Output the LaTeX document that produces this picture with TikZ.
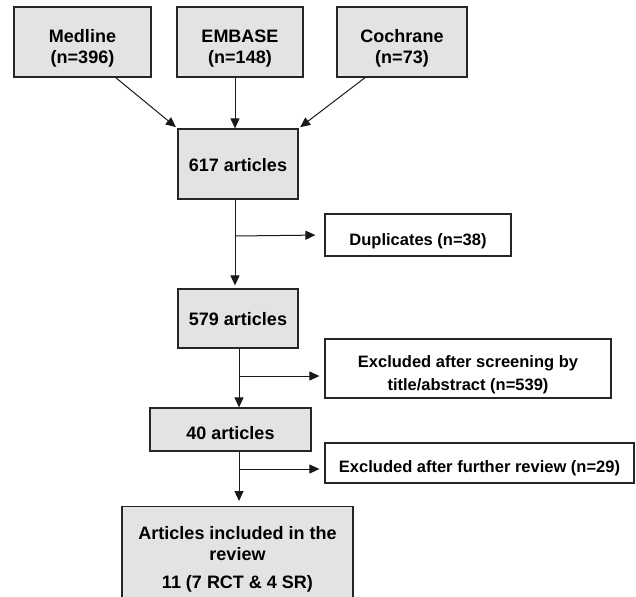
\documentclass[tikz,border=0pt]{standalone}
\usepackage{fontspec}
\setmainfont{Liberation Sans}
\usetikzlibrary{arrows.meta,positioning}
\newcommand{\boxtop}[1]{\rule{0pt}{#1pt}}

\begin{document}
\begin{tikzpicture}[x=1pt,y=-1pt,
  src/.style={draw=black!85,line width=1.2pt,fill=black!11,align=center,inner sep=0pt,font=\fontsize{18}{21}\selectfont\bfseries},
  side/.style={draw=black!85,line width=1.2pt,fill=white,align=center,inner sep=0pt,font=\fontsize{16.5}{23}\selectfont\bfseries},
  arr/.style={-{Triangle[length=10pt,width=9pt]},line width=1pt,black!90}]
\useasboundingbox (0,0) rectangle (636,596);
\node[src,minimum width=137,minimum height=70] (med) at (82.5,42) {\boxtop{25}Medline\\(n=396)};
\node[src,minimum width=126,minimum height=70] (emb) at (240,42) {\boxtop{25}EMBASE\\(n=148)};
\node[src,minimum width=130,minimum height=70] (coch) at (402,42) {\boxtop{25}Cochrane\\(n=73)};
\node[src,minimum width=120,minimum height=70] (n617) at (238,164) {\boxtop{16}617 articles};
\node[side,minimum width=186,minimum height=42] (dup) at (418,235) {\boxtop{24}Duplicates (n=38)};
\node[src,minimum width=120,minimum height=59] (n579) at (238,318.5) {\boxtop{15}579 articles};
\node[side,minimum width=286,minimum height=59] (scr) at (468,368.5) {\boxtop{23.5}Excluded after screening by\\title/abstract (n=539)};
\node[src,minimum width=161,minimum height=43] (n40) at (230.5,429.5) {\boxtop{21}40 articles};
\node[side,minimum width=309,minimum height=40] (fur) at (479.5,463) {\boxtop{23}Excluded after further review (n=29)};
\node[src,minimum width=231,inner ysep=10pt,anchor=north] (incl) at (237.5,506) {\boxtop{23}Articles included in the\\review\\[7pt]11 (7 RCT \& 4 SR)};
\coordinate (b1) at (235,236);
\coordinate (b2) at (239,376);
\coordinate (b3) at (239,469);
\draw[arr,shorten >=2pt] (med.-47) -- (n617.north west);
\draw[arr] (b1 |- emb.south) -- (b1 |- n617.north);
\draw[arr,shorten >=2pt] (coch.-136) -- (n617.north east);
\draw[arr,shorten >=3pt] (b1 |- n617.south) -- (b1 |- n579.north);
\draw[arr,shorten >=9pt] (b1) -- (dup.west);
\draw[arr] (b2 |- n579.south) -- (b2 |- n40.north);
\draw[arr,shorten >=5pt] (b2) -- (b2 -| scr.west);
\draw[arr,shorten >=5pt] (b3 |- n40.south) -- (b3 |- incl.north);
\draw[arr,shorten >=5pt] (b3) -- (b3 -| fur.west);
\end{tikzpicture}
\end{document}
